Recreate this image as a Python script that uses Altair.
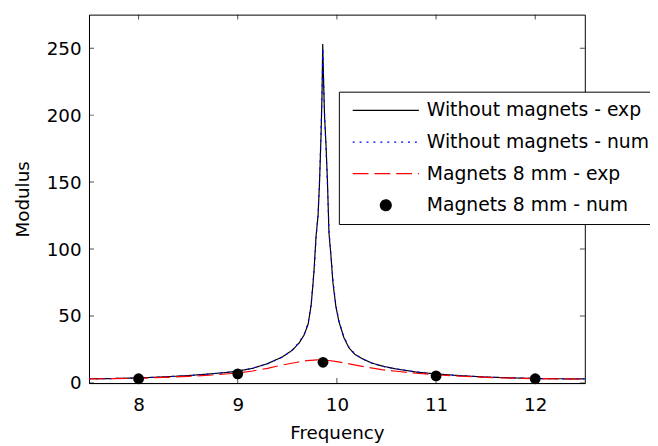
import altair as alt
import pandas as pd

series_names = ["Without magnets - exp", "Without magnets - num",
                "Magnets 8 mm - exp", "Magnets 8 mm - num"]

# Without magnets - experimental
freq_wo_exp = [7.5, 7.75, 8.0, 8.25, 8.5, 8.7, 8.9, 9.0, 9.15, 9.3, 9.45, 9.55, 9.62,
               9.67, 9.71, 9.74, 9.76, 9.77, 9.79, 9.81, 9.825, 9.84, 9.85, 9.857,
               9.865, 9.875, 9.89, 9.905, 9.92, 9.94, 9.96, 9.99, 10.02, 10.07, 10.12,
               10.18, 10.25, 10.35, 10.45, 10.6, 10.8, 11.0, 11.25, 11.5, 11.75, 12.0,
               12.25, 12.5]
mod_wo_exp = [3.2, 3.4, 3.8, 4.6, 5.6, 6.7, 8.0, 8.9, 11.0, 14.5, 19.5, 24.5, 30,
              36, 44, 58, 75, 85, 110, 125, 150, 185, 215, 253,
              228, 200, 178, 150, 112, 95, 75, 57, 46, 34, 26.5,
              21.5, 18.4, 15.0, 12.8, 10.5, 8.2, 6.8, 5.5, 4.5, 3.9, 3.4,
              3.2, 3.1]

# Without magnets - numerical
freq_wo_num = [7.5, 7.75, 8.0, 8.25, 8.5, 8.7, 8.9, 9.0, 9.15, 9.3, 9.45, 9.55, 9.62,
               9.67, 9.71, 9.74, 9.76, 9.775, 9.79, 9.81, 9.825, 9.84, 9.85, 9.858,
               9.866, 9.877, 9.89, 9.905, 9.92, 9.94, 9.96, 9.99, 10.02, 10.07, 10.12,
               10.18, 10.25, 10.35, 10.45, 10.6, 10.8, 11.0, 11.25, 11.5, 11.75, 12.0,
               12.25, 12.5]
mod_wo_num = [3.1, 3.4, 3.8, 4.5, 5.5, 6.6, 8.0, 8.8, 11.1, 14.3, 19.4, 24.6, 30.5,
              36.5, 45, 59, 76, 88, 108, 126, 152, 188, 218, 250,
              226, 198, 176, 146, 114, 96, 77, 58, 46.5, 34.5, 27,
              21.8, 18.2, 15.1, 12.7, 10.4, 8.3, 6.7, 5.4, 4.5, 3.9, 3.4,
              3.2, 3.1]

# Magnets 8 mm - experimental
freq_mag_exp = [7.5, 7.75, 8.0, 8.25, 8.5, 8.75, 9.0, 9.15, 9.3, 9.45, 9.6, 9.7,
                9.8, 9.9, 10.0, 10.15, 10.3, 10.45, 10.6, 10.8, 11.0, 11.25, 11.5,
                11.75, 12.0, 12.25, 12.5]
mod_mag_exp = [3.1, 3.3, 3.6, 4.3, 5.0, 6.0, 7.5, 9.0, 11.0, 13.5, 15.5, 16.8,
               17.3, 17.0, 16.0, 14.0, 11.8, 10.0, 8.8, 7.3, 6.2, 5.1, 4.3,
               3.7, 3.3, 3.1, 3.0]

# Magnets 8 mm - numerical (points)
freq_mag_num = [8.0, 9.0, 9.86, 11.0, 12.0]
mod_mag_num = [3.2, 6.9, 15.5, 5.4, 3.2]

x_ticks = [8, 9, 10, 11, 12]
y_ticks = [0, 50, 100, 150, 200, 250]
x_domain = [7.5, 12.5]
y_domain = [0, 275]

line_df = pd.concat([
    pd.DataFrame({"f": freq_wo_exp, "m": mod_wo_exp, "series": series_names[0]}),
    pd.DataFrame({"f": freq_wo_num, "m": mod_wo_num, "series": series_names[1]}),
    pd.DataFrame({"f": freq_mag_exp, "m": mod_mag_exp, "series": series_names[2]}),
], ignore_index=True)
pts_df = pd.DataFrame({"f": freq_mag_num, "m": mod_mag_num, "series": series_names[3]})

FONT = "DejaVu Sans"
FS = 18.5
LFS = 19

xs = alt.Scale(domain=x_domain, nice=False, zero=False)
ys = alt.Scale(domain=y_domain, nice=False)
x_axis = alt.Axis(values=x_ticks, format="d", labelOverlap=False, ticks=False,
                  grid=False, labelPadding=13, titlePadding=10)
y_axis = alt.Axis(values=y_ticks, format="d", labelOverlap=False, ticks=False,
                  grid=False, labelPadding=8, titlePadding=14)


def X(field):
    return alt.X(field, type="quantitative", scale=xs, axis=x_axis, title="Frequency")


def Y(field):
    return alt.Y(field, type="quantitative", scale=ys, axis=y_axis, title="Modulus")


color_scale = alt.Scale(domain=series_names, range=["#000000", "#0000ff", "#ff0000", "#000000"])
dash_scale = alt.Scale(domain=series_names, range=[[1, 0], [2, 5], [16, 6], [1, 0]])
shape_scale = alt.Scale(domain=series_names, range=["stroke", "stroke", "stroke", "circle"])
size_scale = alt.Scale(type="ordinal", domain=series_names, range=[4489, 4489, 4489, 120])

lines = alt.Chart(line_df).mark_line(strokeWidth=1.2, clip=True).encode(
    x=X("f"), y=Y("m"),
    color=alt.Color("series:N", scale=color_scale, title=None, sort=series_names),
    strokeDash=alt.StrokeDash("series:N", scale=dash_scale, title=None, sort=series_names),
)

points = alt.Chart(pts_df).mark_point(filled=True, opacity=1).encode(
    x=X("f"), y=Y("m"),
    color=alt.Color("series:N", scale=color_scale, title=None, sort=series_names),
    shape=alt.Shape("series:N", scale=shape_scale, title=None, sort=series_names),
    size=alt.Size("series:N", scale=size_scale, title=None, sort=series_names),
)

xt_df = pd.DataFrame({"t": x_ticks})
yt_df = pd.DataFrame({"t": y_ticks})
tick_bottom = alt.Chart(xt_df).mark_tick(orient="vertical", size=10, thickness=1,
                                         color="black", clip=True).encode(
    x=X("t"), y=alt.datum(y_domain[0]))
tick_top = alt.Chart(xt_df).mark_tick(orient="vertical", size=10, thickness=1,
                                      color="black", clip=True).encode(
    x=X("t"), y=alt.datum(y_domain[1]))
tick_left = alt.Chart(yt_df).mark_tick(orient="horizontal", size=10, thickness=1,
                                       color="black", clip=True).encode(
    y=Y("t"), x=alt.datum(x_domain[0]))
tick_right = alt.Chart(yt_df).mark_tick(orient="horizontal", size=10, thickness=1,
                                        color="black", clip=True).encode(
    y=Y("t"), x=alt.datum(x_domain[1]))

chart = alt.layer(lines, points, tick_bottom, tick_top, tick_left, tick_right).properties(
    width=502, height=373,
    autosize=alt.AutoSizeParams(type="none"),
    padding={"left": 82, "top": 4, "right": 66, "bottom": 61},
    background="white",
).configure_view(
    stroke="black", strokeWidth=1
).configure_axis(
    domainColor="black", domainWidth=1, labelFont=FONT, labelFontSize=FS,
    labelColor="black", titleFont=FONT, titleFontSize=FS, titleFontWeight="normal",
    titleColor="black"
).configure_legend(
    orient="none", legendX=253, legendY=78,
    strokeColor="black", fillColor="white", padding=8,
    labelFont=FONT, labelFontSize=LFS, labelColor="black", labelLimit=500,
    clipHeight=22, rowPadding=10, labelOffset=7, symbolOffset=5,
    symbolStrokeWidth=1.2, symbolFillColor="black", cornerRadius=0
)

chart.save("out.html", embed_options={"renderer": "svg", "actions": False})
